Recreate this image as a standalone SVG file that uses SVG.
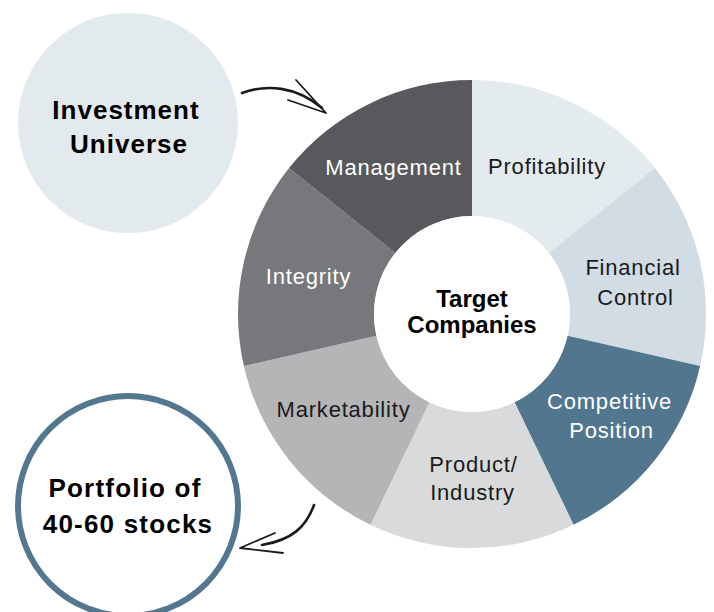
<svg xmlns="http://www.w3.org/2000/svg" width="714" height="612" viewBox="0 0 714 612">
<style>
.lbl{font-family:"Liberation Sans",Arial,sans-serif;font-size:22px;letter-spacing:0.8px;text-anchor:middle;fill:#1a1a1a}
.wht{fill:#ffffff}
.bold{font-family:"Liberation Sans",Arial,sans-serif;font-weight:bold;text-anchor:middle;fill:#000000}
.conn{fill:none;stroke:#1a1a1a;stroke-linecap:round;stroke-linejoin:round}
</style>
<rect width="714" height="612" fill="#ffffff"/>
<g id="investment-universe">
<circle cx="128" cy="123" r="110" fill="#e3eaee"/>
<text class="bold" x="126" y="119" font-size="26" letter-spacing="1">Investment</text>
<text class="bold" x="129" y="153" font-size="26" letter-spacing="1">Universe</text>
</g>
<g id="portfolio">
<circle cx="128" cy="506" r="110" fill="#ffffff" stroke="#52778f" stroke-width="6"/>
<text class="bold" x="125" y="497" font-size="26" letter-spacing="1.2">Portfolio of</text>
<text class="bold" x="128" y="533" font-size="26" letter-spacing="1.2">40-60 stocks</text>
</g>
<g id="profitability">
<path d="M472,80 A234,234 0 0 1 654.95,168.1 L548.62,252.9 A98,98 0 0 0 472,216 Z" fill="#e3ebef"/>
<text class="lbl" x="547" y="174">Profitability</text>
</g>
<g id="financial-control">
<path d="M654.95,168.1 A234,234 0 0 1 700.13,366.07 L567.54,335.81 A98,98 0 0 0 548.62,252.9 Z" fill="#d1dce4"/>
<text class="lbl" x="633" y="275">Financial</text>
<text class="lbl" x="635.5" y="305">Control</text>
</g>
<g id="competitive-position">
<path d="M700.13,366.07 A234,234 0 0 1 573.53,524.83 L514.52,402.3 A98,98 0 0 0 567.54,335.81 Z" fill="#51768e"/>
<text class="lbl wht" x="609.5" y="409">Competitive</text>
<text class="lbl wht" x="611.5" y="438">Position</text>
</g>
<g id="product-industry">
<path d="M573.53,524.83 A234,234 0 0 1 370.47,524.83 L429.48,402.3 A98,98 0 0 0 514.52,402.3 Z" fill="#d9dadb"/>
<text class="lbl" x="473.5" y="472">Product/</text>
<text class="lbl" x="472.5" y="500">Industry</text>
</g>
<g id="marketability">
<path d="M370.47,524.83 A234,234 0 0 1 243.87,366.07 L376.46,335.81 A98,98 0 0 0 429.48,402.3 Z" fill="#b4b5b7"/>
<text class="lbl" x="343.5" y="417">Marketability</text>
</g>
<g id="integrity">
<path d="M243.87,366.07 A234,234 0 0 1 289.05,168.1 L395.38,252.9 A98,98 0 0 0 376.46,335.81 Z" fill="#77787c"/>
<text class="lbl wht" x="308.5" y="284">Integrity</text>
</g>
<g id="management">
<path d="M289.05,168.1 A234,234 0 0 1 472,80 L472,216 A98,98 0 0 0 395.38,252.9 Z" fill="#58595c"/>
<text class="lbl wht" x="393.5" y="175">Management</text>
</g>
<g id="target-companies">
<circle cx="472" cy="314" r="98" fill="#ffffff"/>
<text class="bold" x="472" y="307" font-size="24">Target</text>
<text class="bold" x="472" y="333" font-size="24">Companies</text>
</g>
<g id="connectors">
<path class="conn" stroke-width="2.6" d="M242,93 C266,84 296,86 322,108"/>
<path class="conn" stroke-width="1.8" d="M296,80 L326,113 L288,100"/>
<path class="conn" stroke-width="2.6" d="M314,505 C306,527 292,540 262,545"/>
<path class="conn" stroke-width="1.8" d="M275,533 L240,548 L283,553"/>
</g>
</svg>
